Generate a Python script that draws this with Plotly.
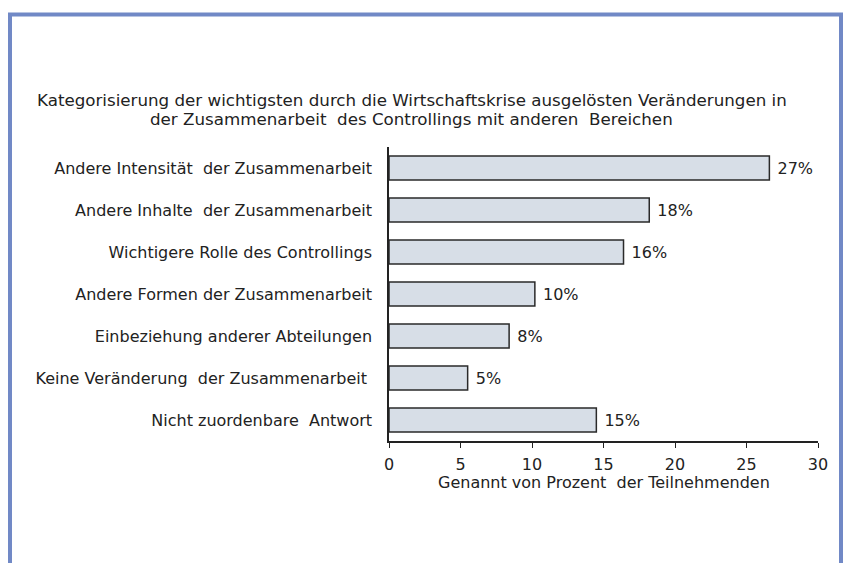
import plotly.graph_objects as go

categories = [
    "Andere Intensität  der Zusammenarbeit",
    "Andere Inhalte  der Zusammenarbeit",
    "Wichtigere Rolle des Controllings",
    "Andere Formen der Zusammenarbeit",
    "Einbeziehung anderer Abteilungen",
    "Keine Veränderung  der Zusammenarbeit ",
    "Nicht zuordenbare  Antwort",
]
values = [26.6, 18.2, 16.4, 10.2, 8.4, 5.5, 14.5]
value_labels = ["27%", "18%", "16%", "10%", "8%", "5%", "15%"]
x_ticks = [0, 5, 10, 15, 20, 25, 30]

title_line1 = "Kategorisierung der wichtigsten durch die Wirtschaftskrise ausgelösten Veränderungen in"
title_line2 = "der Zusammenarbeit  des Controllings mit anderen  Bereichen"
x_title = "Genannt von Prozent  der Teilnehmenden"

font_family = "DejaVu Sans, Liberation Sans, Arial, sans-serif"
text_color = "#222222"
fs = 16

# plot area (in page pixels): x 389..818, y 147..441
def px_x(p):
    return (p - 389) / 429

def px_y(p):
    return (441 - p) / 294

fig = go.Figure(
    go.Bar(
        x=values,
        y=categories,
        orientation="h",
        width=0.567,
        marker=dict(color="#d7dee7", line=dict(color="#2a2a2a", width=1.5)),
        text=value_labels,
        texttemplate=" %{text}",
        textposition="outside",
        textfont=dict(size=fs, color=text_color, family=font_family),
        cliponaxis=False,
    )
)

fig.update_layout(
    width=843,
    height=555,
    paper_bgcolor="white",
    plot_bgcolor="white",
    margin=dict(l=381, r=33, t=139, b=122),
    showlegend=False,
    font=dict(family=font_family, size=fs, color=text_color),
    annotations=[
        dict(text=title_line1, xref="paper", yref="paper",
             x=px_x(411.5), y=px_y(100), xanchor="center", yanchor="middle",
             showarrow=False, font=dict(size=16.7, color=text_color)),
        dict(text=title_line2, xref="paper", yref="paper",
             x=px_x(411.5), y=px_y(119), xanchor="center", yanchor="middle",
             showarrow=False, font=dict(size=16.7, color=text_color)),
        dict(text=x_title, xref="paper", yref="paper",
             x=0.5, y=px_y(482), xanchor="center", yanchor="middle",
             showarrow=False, font=dict(size=fs, color=text_color)),
    ],
    shapes=[
        dict(
            type="rect", xref="paper", yref="paper",
            x0=px_x(10), x1=px_x(841),
            y0=-0.6, y1=px_y(14.5),
            line=dict(color="#7189c6", width=4),
            fillcolor="rgba(0,0,0,0)",
            layer="below",
        )
    ],
)

fig.update_xaxes(
    range=[0, 30],
    tickvals=x_ticks,
    ticks="outside",
    ticklen=5,
    tickcolor="#222222",
    showline=True,
    linecolor="#222222",
    linewidth=1.5,
    showgrid=False,
    zeroline=False,
    ticklabelstandoff=3,
    tickfont=dict(size=fs, color=text_color),
)

fig.update_yaxes(
    autorange="reversed",
    showline=True,
    linecolor="#222222",
    linewidth=1.5,
    ticks="",
    showgrid=False,
    zeroline=False,
    ticklabelstandoff=12,
    tickfont=dict(size=fs, color=text_color),
)

fig.write_html("out.html")
